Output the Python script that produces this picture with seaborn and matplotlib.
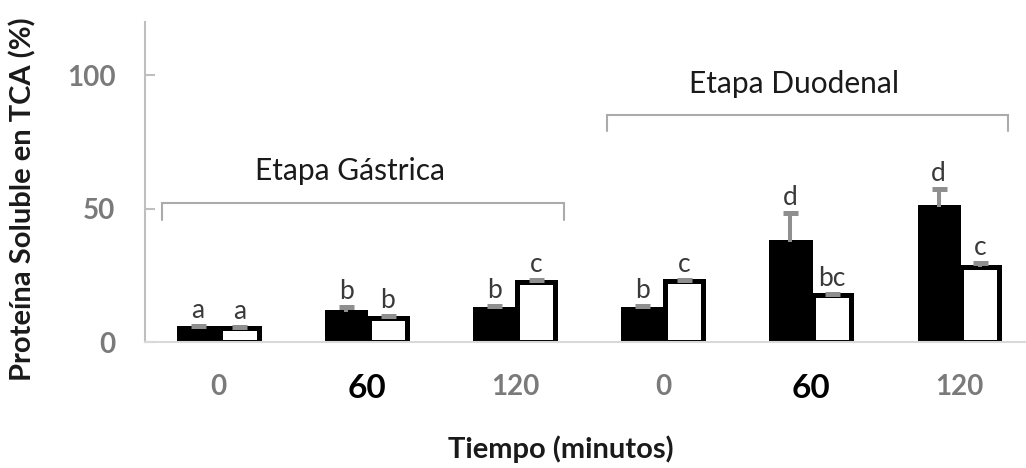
import numpy as np
import pandas as pd
import seaborn as sns
import matplotlib.pyplot as plt

# Values (% soluble protein in TCA)
grupos = ["G0", "G60", "G120", "D0", "D60", "D120"]
tick_labels = ["0", "60", "120", "0", "60", "120"]
muestras = ["negro", "blanco"]

valores_negro = [5.4, 11.3, 12.3, 12.3, 37.6, 50.7]
error_negro = [0.5, 1.8, 1.1, 1.1, 10.7, 6.8]
letras_negro = ["a", "b", "b", "b", "d", "d"]

valores_blanco = [5.2, 9.0, 22.6, 22.8, 17.6, 28.0]
error_blanco = [0.3, 0.6, 0.5, 0.3, 0.4, 1.8]
letras_blanco = ["a", "b", "c", "c", "bc", "c"]

etapas = ["Etapa Gástrica", "Etapa Duodenal"]
etapa_grupos = [(0, 2), (3, 5)]

df = pd.DataFrame({
    "grupo": grupos * 2,
    "muestra": ["negro"] * 6 + ["blanco"] * 6,
    "valor": valores_negro + valores_blanco,
})

sns.set_theme(style="white")
plt.rcParams["font.family"] = ["Lato", "DejaVu Sans"]

fig = plt.figure(figsize=(10.26, 4.68), dpi=100)
ax = fig.add_axes([0.141, 0.269, 0.859, 0.684])

sns.barplot(data=df, x="grupo", y="valor", hue="muestra", order=grupos,
            hue_order=muestras, palette=["black", "white"], edgecolor="black",
            linewidth=3.6, width=0.56, gap=0.08, errorbar=None, legend=False,
            ax=ax, zorder=2)

# error bars (upper side only) and significance letters
for cont, vals, errs, letras in zip(ax.containers,
                                    [valores_negro, valores_blanco],
                                    [error_negro, error_blanco],
                                    [letras_negro, letras_blanco]):
    xs = [p.get_x() + p.get_width() / 2 for p in cont.patches]
    eb = ax.errorbar(xs, vals, yerr=[np.zeros(len(vals)), errs], fmt="none",
                     ecolor="#8f8f8f", elinewidth=2.9, capsize=5.4,
                     capthick=3.6, zorder=3)
    eb[1][0].set_visible(False)
    for x, v, e, l in zip(xs, vals, errs, letras):
        ax.text(x, v + e + 3.0, l, ha="center", va="baseline",
                fontsize=19, color="#3a3a3a", zorder=4)

# stage brackets
for nombre, (g0, g1), yb, yleg, ytxt in zip(etapas, etapa_grupos,
                                           [52.3, 85.3], [45.7, 79.0],
                                           [64.0, 96.6]):
    x0, x1 = g0 - 0.38, g1 + 0.33
    ax.plot([x0, x0, x1, x1], [yleg, yb, yb, yleg], color="#ababab",
            lw=1.5, solid_joinstyle="miter", zorder=1)
    ax.text((x0 + x1) / 2 - 0.09, ytxt, nombre, ha="center", va="center",
            fontsize=21.5, color="#1a1a1a")

ax.set_xlim(-0.5, 5.45)
ax.set_ylim(0, 120)
ax.set_yticks([0, 50, 100])
ax.set_yticklabels(["0", "50", "100"], fontsize=20, fontweight="bold",
                   color="#7a7a7a")
ax.set_xticks(range(len(grupos)))
ax.set_xticklabels(tick_labels)
for lab in ax.get_xticklabels():
    if lab.get_text() == "60":
        lab.set_fontsize(24)
        lab.set_color("black")
    else:
        lab.set_fontsize(20)
        lab.set_color("#7a7a7a")
    lab.set_fontweight("bold")

ax.tick_params(axis="y", direction="in", length=7, width=1.5,
               color="#bfbfbf", pad=21, left=True)
ax.tick_params(axis="x", length=0, pad=23)

for s in ["top", "right"]:
    ax.spines[s].set_visible(False)
ax.spines["left"].set_color("#bfbfbf")
ax.spines["left"].set_linewidth(1.5)
ax.spines["bottom"].set_color("#d9d9d9")
ax.spines["bottom"].set_linewidth(1.5)

ax.set_ylabel("Proteína Soluble en TCA (%)", fontsize=21, fontweight="bold",
              color="#1a1a1a")
ax.yaxis.set_label_coords(-0.123, 0.447)
ax.set_xlabel("Tiempo (minutos)", fontsize=21, fontweight="bold",
              color="#1a1a1a")
ax.xaxis.set_label_coords(0.472, -0.29)

fig.savefig("out.png", dpi=100)
